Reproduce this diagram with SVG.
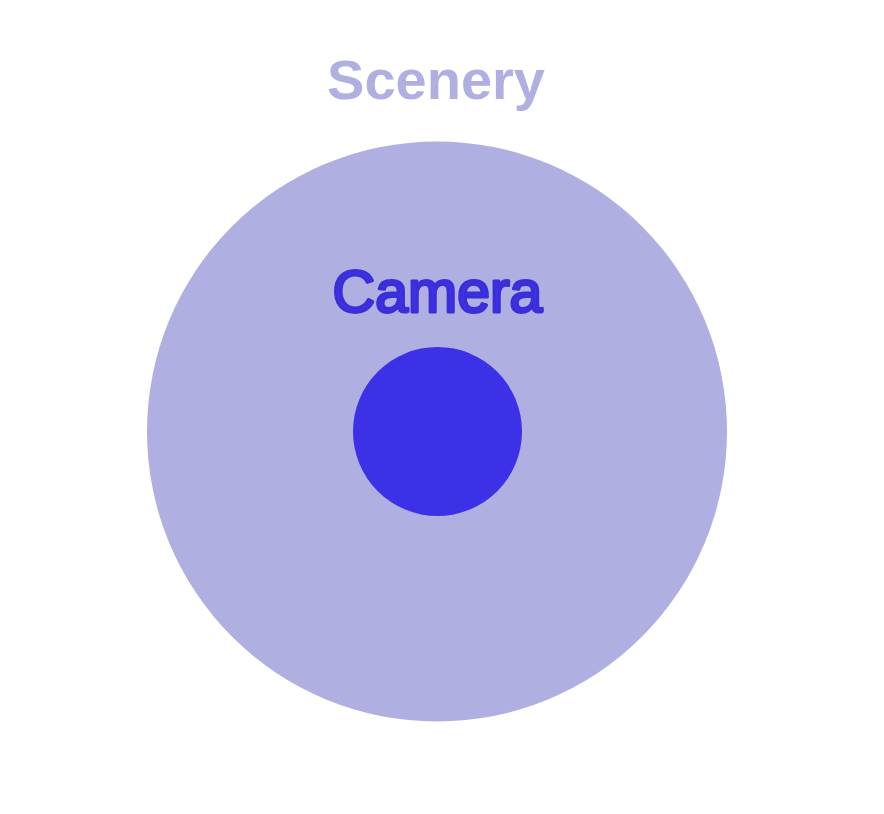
<svg xmlns="http://www.w3.org/2000/svg" width="884" height="814" viewBox="0 0 884 814">
<style>
.lbl{font-family:"Liberation Sans",Arial,Helvetica,sans-serif;text-anchor:middle}
</style>
<rect width="884" height="814" fill="#ffffff"/>
<g id="scenery">
<circle cx="437" cy="431.5" r="290" fill="#AFAFE1"/>
<text class="lbl" x="436" y="99" font-size="56" font-weight="bold" fill="#AFAFE1">Scenery</text>
</g>
<g id="camera">
<circle cx="437.5" cy="431.5" r="84.5" fill="#3D31E8"/>
<text class="lbl" x="437.5" y="311.5" font-size="59" fill="#3D31E8" stroke="#3A2FD6" stroke-width="3" stroke-linejoin="round">Camera</text>
</g>
<g id="connectors"/>
</svg>
